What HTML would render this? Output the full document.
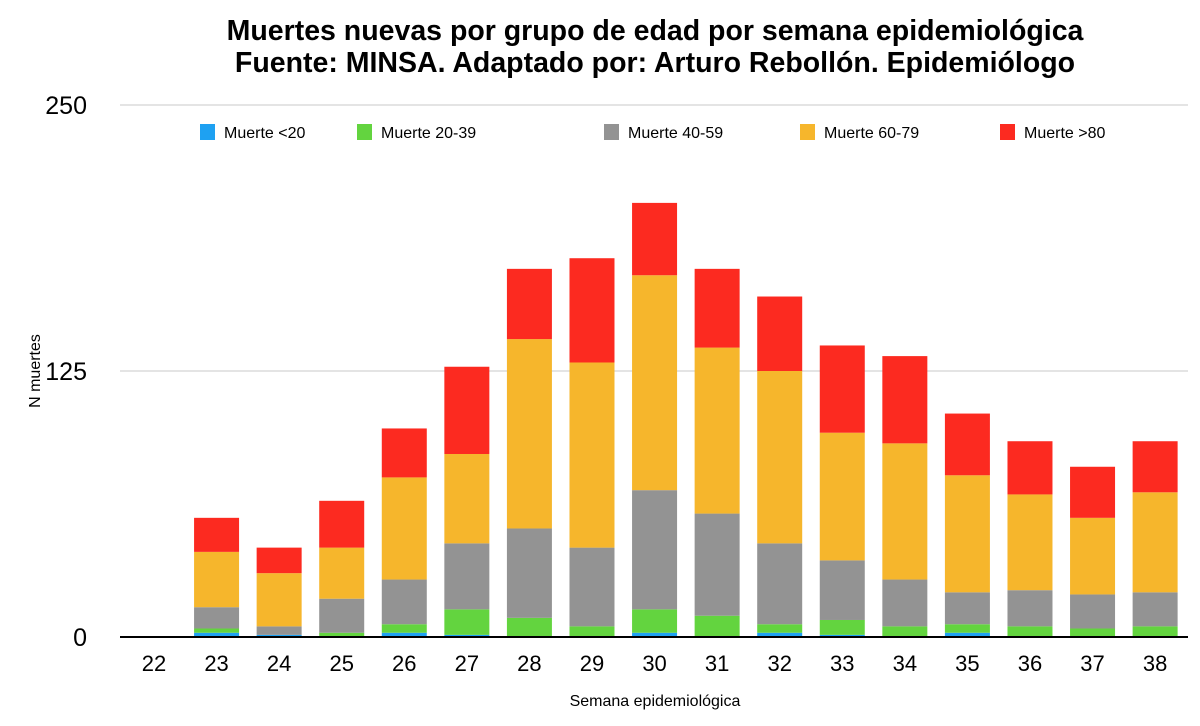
<!DOCTYPE html>
<html><head><meta charset="utf-8"><style>
body{margin:0;background:#fff;font-family:"Liberation Sans",sans-serif;}
svg text{font-family:"Liberation Sans",sans-serif;}
</style></head><body>
<svg width="1200" height="721" xmlns="http://www.w3.org/2000/svg">
<text x="655" y="40" text-anchor="middle" font-size="28.5" font-weight="bold">Muertes nuevas por grupo de edad por semana epidemiológica</text>
<text x="655" y="72" text-anchor="middle" font-size="28.5" font-weight="bold">Fuente: MINSA. Adaptado por: Arturo Rebollón. Epidemiólogo</text>
<g id="grid"></g>
<g id="bars"></g>
<line x1="120" y1="637" x2="1188" y2="637" stroke="#000" stroke-width="2"/>
<g id="xt"></g>
<text transform="translate(40,371) rotate(-90)" text-anchor="middle" font-size="16">N muertes</text>
<text x="655" y="706" text-anchor="middle" font-size="16">Semana epidemiológica</text>
<g id="legend"></g>
</svg>
<script>
const categories=["22","23","24","25","26","27","28","29","30","31","32","33","34","35","36","37","38"];
const under20=[0,2,1,0,2,1,0,0,2,0,2,1,0,2,0,0,0];
const s20_39=[0,2,0,2,4,12,9,5,11,10,4,7,5,4,5,4,5];
const s40_59=[0,10,4,16,21,31,42,37,56,48,38,28,22,15,17,16,16];
const s60_79=[0,26,25,24,48,42,89,87,101,78,81,60,64,55,45,36,47];
const over80=[0,16,12,22,23,41,33,49,34,37,35,41,41,29,25,24,24];
const yTicks=[0,125,250];
const seriesNames=["Muerte <20","Muerte 20-39","Muerte 40-59","Muerte 60-79","Muerte >80"];
const series=[under20,s20_39,s40_59,s60_79,over80];
const colors=["#1ea1f2","#63d43f","#939393","#f6b62c","#fc2a20"];
const NS="http://www.w3.org/2000/svg";
const y0=637,yTop=105,yMax=250;
function ys(v){return y0-(v/yMax)*(y0-yTop);}
function xs(i){return 154+i*62.57;}
function mk(t,a,p){const e=document.createElementNS(NS,t);for(const k in a)e.setAttribute(k,a[k]);p.appendChild(e);return e;}
const grid=document.getElementById('grid');
yTicks.forEach(t=>{
  if(t>0){const l=mk('line',{x1:120,x2:1188,y1:ys(t),y2:ys(t),stroke:'#c8c8c8','stroke-width':1},grid);
  
  }
  const tx=mk('text',{x:87,y:ys(t)+9,'text-anchor':'end','font-size':25},grid);tx.textContent=t;
  
  
});
const bars=document.getElementById('bars');
const xt=document.getElementById('xt');
categories.forEach((c,i)=>{
  let cum=0;
  series.forEach((s,k)=>{
    const v=s[i];if(v<=0)return;
    const r=mk('rect',{x:xs(i)-22.5,width:45,y:ys(cum+v),height:ys(cum)-ys(cum+v),fill:colors[k]},bars);
    
    
    cum+=v;
  });
  const t=mk('text',{x:xs(i),y:671,'text-anchor':'middle','font-size':22},xt);t.textContent=c;
  
  
});
const lg=document.getElementById('legend');
const lx=[200,357,604,800,1000];
seriesNames.forEach((n,k)=>{
  const g=mk('g',{},lg);
  
  
  mk('rect',{x:lx[k],y:124,width:15,height:16,fill:colors[k]},g);
  const t=mk('text',{x:lx[k]+24,y:138,'font-size':16},g);t.textContent=n;
});
</script>
</body></html>
